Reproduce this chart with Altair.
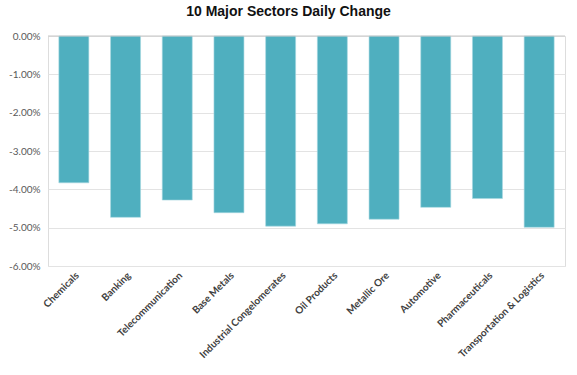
import altair as alt
import pandas as pd

sectors = ["Chemicals", "Banking", "Telecommunication", "Base Metals",
           "Industrial Congelomerates", "Oil Products", "Metallic Ore",
           "Automotive", "Pharmaceuticals", "Transportation & Logistics"]
changes = [-0.0383, -0.0473, -0.0428, -0.0461, -0.0496, -0.0490, -0.0478,
           -0.0447, -0.0424, -0.0499]
y_ticks = [0, -0.01, -0.02, -0.03, -0.04, -0.05, -0.06]

df = pd.DataFrame({"sector": sectors, "change": changes})

y_axis = alt.Axis(values=y_ticks,
                  labelExpr="replace(format(datum.value, '.2%'), '\u2212', '-')",
                  labelFont="Lato", labelFontSize=10,
                  labelColor="#595959", labelPadding=8,
                  labelOverlap=False,
                  domain=False, ticks=False,
                  grid=True, gridColor="#E3E3E3", gridWidth=1)
y_scale = alt.Scale(domain=[-0.06, 0], nice=False)

bars = alt.Chart(df).mark_bar(color="#4FAFBF", stroke="#A6D7E0", strokeWidth=0.6).encode(
    x=alt.X("sector:N", sort=sectors, title=None,
            scale=alt.Scale(paddingInner=0.42, paddingOuter=0.21),
            axis=alt.Axis(labelAngle=-45, labelAlign="right", labelBaseline="top",
                          labelFont="Lato", labelFontSize=10,
                          labelFontWeight="bold", labelColor="#404040",
                          labelPadding=4, domain=False, ticks=False,
                          labelOverlap=False, labelLimit=300)),
    y=alt.Y("change:Q", title=None, scale=y_scale, axis=y_axis),
)

zero = alt.Chart(pd.DataFrame({"z": [0]})).mark_rule(color="#C8C8C8", strokeWidth=1.2).encode(
    y=alt.Y("z:Q", title=None, scale=y_scale, axis=y_axis)
)

chart = alt.layer(bars, zero).properties(
    width=517, height=230,
    title=alt.TitleParams("10 Major Sectors Daily Change", font="Liberation Sans",
                          fontSize=14, fontWeight="bold", color="#111111",
                          anchor="middle", dx=-18, offset=12),
    autosize=alt.AutoSizeParams(type="none"),
    padding={"left": 48, "top": 36, "right": 12, "bottom": 109},
).configure_view(stroke=None).configure(background="white")

chart.save("out.html", embed_options={"renderer": "svg", "actions": False})
